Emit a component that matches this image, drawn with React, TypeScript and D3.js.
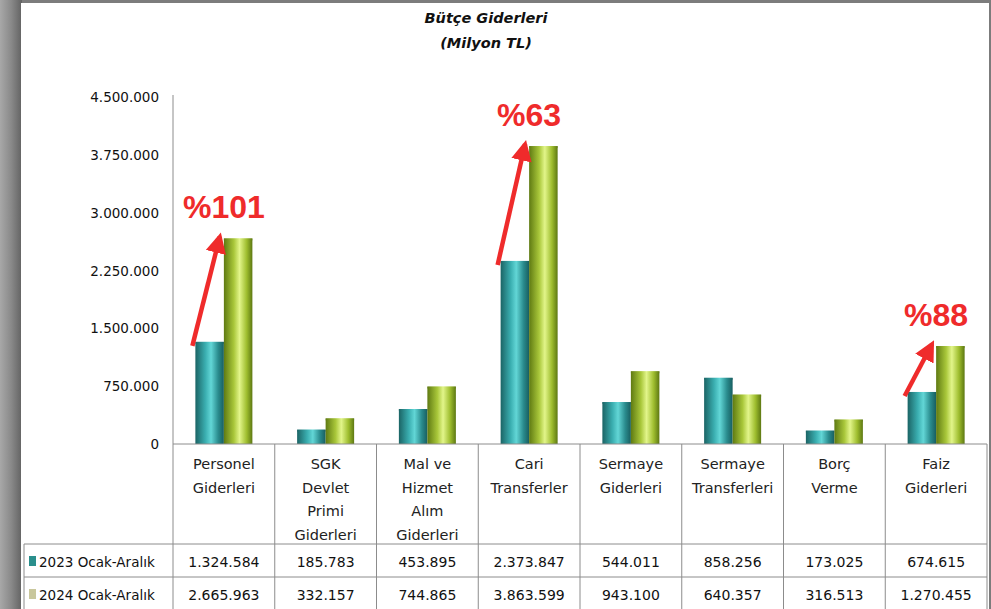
import React from "react";
import * as d3 from "d3";

const categories = [
  ["Personel", "Giderleri"],
  ["SGK", "Devlet", "Primi", "Giderleri"],
  ["Mal ve", "Hizmet", "Alım", "Giderleri"],
  ["Cari", "Transferler"],
  ["Sermaye", "Giderleri"],
  ["Sermaye", "Transferleri"],
  ["Borç", "Verme"],
  ["Faiz", "Giderleri"],
];
const seriesNames = ["2023 Ocak-Aralık", "2024 Ocak-Aralık"];
const values2023 = [1324584, 185783, 453895, 2373847, 544011, 858256, 173025, 674615];
const values2024 = [2665963, 332157, 744865, 3863599, 943100, 640357, 316513, 1270455];
const yTicks = [0, 750000, 1500000, 2250000, 3000000, 3750000, 4500000];
const annotations = [
  { index: 0, label: "%101" },
  { index: 3, label: "%63" },
  { index: 7, label: "%88" },
];
const title = ["Bütçe Giderleri", "(Milyon TL)"];

const W = 991;
const H = 609;
const plotLeft = 173;
const plotRight = 987;
const plotTop = 97;
const plotBottom = 444;
const tableTop = 544;
const rowH = 33;

const fmt = d3.formatLocale({ thousands: ".", grouping: [3], decimal: ",", currency: ["", ""] }).format(",d");
const font = "'DejaVu Sans', sans-serif";

export default function App() {
  const keys = categories.map((c) => c.join(" "));
  const x = d3.scaleBand<string>().domain(keys).range([plotLeft, plotRight]);
  const xs = d3.scaleBand<number>().domain([0, 1]).range([0, x.bandwidth()]).paddingOuter(0.785).paddingInner(0);
  const y = d3.scaleLinear().domain([0, 4500000]).range([plotBottom, plotTop]);
  const series = [values2023, values2024];
  const grads = ["gTeal", "gGreen"];

  return (
    <svg width={W} height={H} style={{ position: "absolute", left: 0, top: 0 }}>
      <defs>
        <linearGradient id="frameL" x1="0" x2="1">
          <stop offset="0" stopColor="#a8a8a8" />
          <stop offset="0.5" stopColor="#8a8a8a" />
          <stop offset="1" stopColor="#626262" />
        </linearGradient>
        <linearGradient id="gTeal" x1="0" x2="1">
          <stop offset="0" stopColor="#1b6465" />
          <stop offset="0.35" stopColor="#3aaeb0" />
          <stop offset="0.55" stopColor="#62d6d6" />
          <stop offset="0.8" stopColor="#2a8c8e" />
          <stop offset="1" stopColor="#185e60" />
        </linearGradient>
        <linearGradient id="gGreen" x1="0" x2="1">
          <stop offset="0" stopColor="#5f7a12" />
          <stop offset="0.35" stopColor="#a9c73a" />
          <stop offset="0.55" stopColor="#e2f58a" />
          <stop offset="0.8" stopColor="#9ebd2e" />
          <stop offset="1" stopColor="#5d7812" />
        </linearGradient>
        <marker id="ah" viewBox="0 0 10 10" refX="8" refY="5" markerWidth="4.6" markerHeight="4.6" orient="auto">
          <path d="M0,0 L10,5 L0,10 z" fill="#ef2b2b" />
        </marker>
      </defs>

      {/* frame */}
      <rect x={0} y={0} width={W} height={H} fill="#7c7c7c" />
      <rect x={0} y={0} width={22} height={H} fill="url(#frameL)" />
      <rect x={21} y={3} width={968} height={H - 3} fill="#ffffff" />

      {/* title */}
      {title.map((t, i) => (
        <text key={t} x={486} y={23 + i * 25} textAnchor="middle" fontFamily={font} fontSize={14.5}
          fontWeight="bold" fontStyle="italic" fill="#111">{t}</text>
      ))}

      {/* y axis */}
      {yTicks.map((t) => (
        <text key={t} x={159} y={y(t) + 5} textAnchor="end" fontFamily={font} fontSize={13.5} fill="#111">{fmt(t)}</text>
      ))}

      {/* bars */}
      {series.map((vals, s) => (
        <g key={s}>
          {vals.map((v, i) => {
            const bx = (x(keys[i]) ?? 0) + (xs(s) ?? 0);
            return (
              <g key={i}>
                <rect x={bx} y={y(v)} width={xs.bandwidth()} height={plotBottom - y(v)} fill={`url(#${grads[s]})`} />
                <rect x={bx} y={y(v)} width={xs.bandwidth()} height={2} fill={`url(#${grads[s]})`} opacity={0.7} />
              </g>
            );
          })}
        </g>
      ))}

      {/* axes / grid */}
      <g stroke="#8c8c8c" strokeWidth={1}>
        <line x1={plotLeft} x2={plotLeft} y1={95} y2={H} />
        <line x1={plotLeft} x2={plotRight} y1={plotBottom} y2={plotBottom} />
        <line x1={plotRight} x2={plotRight} y1={plotBottom} y2={H} />
        {keys.slice(1).map((k) => (
          <line key={k} x1={x(k)} x2={x(k)} y1={plotBottom} y2={H} />
        ))}
        <line x1={24} x2={plotRight} y1={tableTop} y2={tableTop} />
        <line x1={24} x2={plotRight} y1={tableTop + rowH} y2={tableTop + rowH} />
        <line x1={24} x2={24} y1={tableTop} y2={H} />
      </g>

      {/* category labels */}
      {categories.map((lines, i) => (
        <text key={i} textAnchor="middle" fontFamily={font} fontSize={14.5} fill="#222">
          {lines.map((l, j) => (
            <tspan key={j} x={(x(keys[i]) ?? 0) + x.bandwidth() / 2} y={469 + j * 23.5}>{l}</tspan>
          ))}
        </text>
      ))}

      {/* table */}
      {series.map((vals, s) => (
        <g key={s}>
          <rect x={29} y={tableTop + s * rowH + 12} width={7} height={10} fill={s === 0 ? "#2a8f8c" : "#c9c79c"} />
          <text x={39} y={tableTop + s * rowH + 23} fontFamily={font} fontSize={13.5} fill="#111">{seriesNames[s]}</text>
          {vals.map((v, i) => (
            <text key={i} x={(x(keys[i]) ?? 0) + x.bandwidth() / 2} y={tableTop + s * rowH + 23} textAnchor="middle"
              fontFamily={font} fontSize={14} fill="#111">{fmt(v)}</text>
          ))}
        </g>
      ))}

      {/* annotations */}
      {annotations.map((a) => {
        const bx0 = (x(keys[a.index]) ?? 0) + (xs(0) ?? 0);
        const bx1 = (x(keys[a.index]) ?? 0) + (xs(1) ?? 0);
        const y0 = y(values2023[a.index]);
        const y1 = y(values2024[a.index]);
        return (
          <g key={a.label}>
            <line x1={bx0 - 3} y1={y0 + 4} x2={bx1 - 4} y2={y1 - 2} stroke="#ef2b2b" strokeWidth={4.5} markerEnd="url(#ah)" />
            <text x={(x(keys[a.index]) ?? 0) + x.bandwidth() / 2} y={y1 - 20} textAnchor="middle"
              fontFamily="'Liberation Sans', Arial, sans-serif" fontWeight="bold" fontSize={32} fill="#ef2b2b">{a.label}</text>
          </g>
        );
      })}
    </svg>
  );
}
